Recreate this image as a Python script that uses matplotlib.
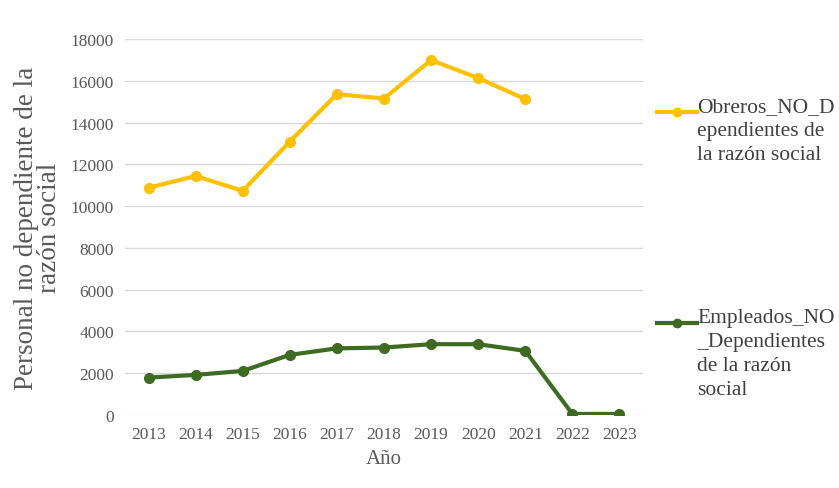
import matplotlib.pyplot as plt
from matplotlib.lines import Line2D

years = ["2013", "2014", "2015", "2016", "2017", "2018", "2019", "2020", "2021", "2022", "2023"]
obreros = [10880, 11440, 10730, 13090, 15360, 15150, 16990, 16130, 15120]
empleados = [1790, 1920, 2110, 2880, 3190, 3230, 3390, 3390, 3070, 50, 50]

YELLOW = "#FFC000"
GREEN = "#3D6B21"
GRAY = "#595959"
SERIF = ["Liberation Serif", "DejaVu Serif"]

fig = plt.figure(figsize=(8.39, 4.89), dpi=100)
W, H = 839, 489
ax = fig.add_axes([125 / W, 1 - 416 / H, (643 - 125) / W, (416 - 40) / H])

x = list(range(len(years)))
ax.plot(x[:len(obreros)], obreros, color=YELLOW, lw=3, marker="o", ms=7, solid_capstyle="round")
ax.plot(x, empleados, color=GREEN, lw=3, marker="o", ms=7, solid_capstyle="round")

ax.set_xlim(-0.5, len(years) - 0.5)
ax.set_ylim(0, 18000)
ax.set_yticks(range(0, 18001, 2000))
ax.set_xticks(x)
ax.set_xticklabels(years)
ax.grid(axis="y", color="#D9D9D9", lw=1)
ax.set_axisbelow(True)
for s in ax.spines.values():
    s.set_visible(False)
ax.tick_params(length=0, labelsize=12.5, colors=GRAY, pad=8)
for lab in ax.get_xticklabels() + ax.get_yticklabels():
    lab.set_family(SERIF)

ax.set_xlabel("Año", family=SERIF, fontsize=15, color=GRAY, labelpad=5)
ax.set_ylabel("Personal no dependiente de la\nrazón social", family=SERIF, fontsize=19.5,
              color=GRAY, linespacing=0.92, labelpad=6)

# legend drawn by hand on the right
def legend_entry(ypx, color, text):
    fig.add_artist(Line2D([657 / W, 697 / W], [1 - ypx / H] * 2, color=color, lw=3,
                          transform=fig.transFigure))
    fig.add_artist(Line2D([677 / W], [1 - ypx / H], color=color, marker="o", ms=6,
                          transform=fig.transFigure))
    fig.text(697 / W, 1 - (ypx - 15) / H, text, family=SERIF, fontsize=15.5, color="#404040",
             va="top", ha="left", linespacing=1.36)

legend_entry(113, YELLOW, "Obreros_NO_D\nependientes de\nla razón social")
legend_entry(324, GREEN, "Empleados_NO\n_Dependientes\nde la razón\nsocial")

fig.savefig("out.png", dpi=100)
